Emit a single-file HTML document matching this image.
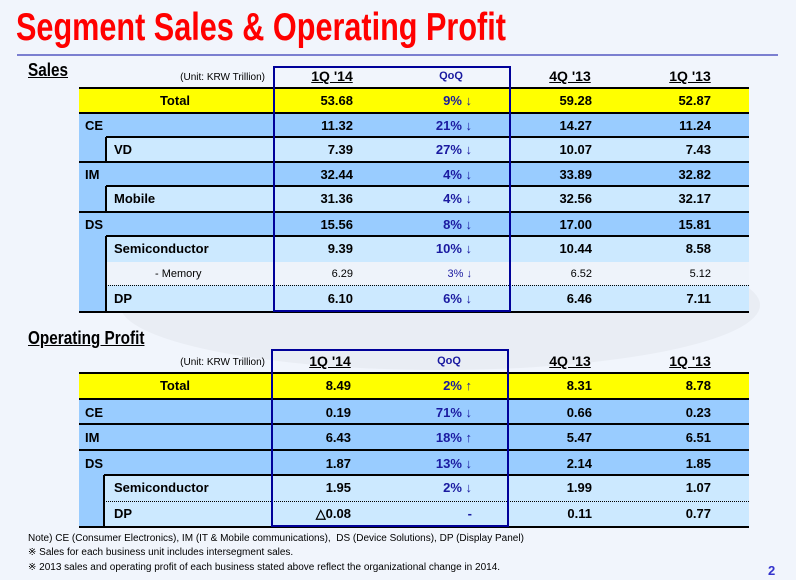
<!DOCTYPE html>
<html><head><meta charset="utf-8"><style>
body{margin:0;background:#fff;}
#slide{position:relative;width:796px;height:580px;overflow:hidden;background:#f1f5fc;font-family:"Liberation Sans",sans-serif;}
.a{position:absolute;}
.t{position:absolute;white-space:nowrap;font-weight:bold;font-size:13px;color:#000;line-height:16px;}
</style></head><body>
<div id="slide">
<div class="a" style="left:120px;top:240px;width:640px;height:130px;border-radius:50%;background:#e9edf4;"></div>
<div class="a" style="left:16px;top:6px;font-size:39px;font-weight:bold;color:#ff0000;white-space:nowrap;transform:scaleX(0.785);transform-origin:0 0;">Segment Sales &amp; Operating Profit</div>
<div class="a" style="left:17px;top:54px;width:761px;height:2px;background:#7b7fd0;"></div>
<div class="a" style="left:28px;top:60px;font-size:18px;font-weight:bold;text-decoration:underline;transform:scaleX(0.85);transform-origin:0 0;">Sales</div>
<div class="a" style="left:28px;top:328px;font-size:18px;font-weight:bold;text-decoration:underline;transform:scaleX(0.85);transform-origin:0 0;">Operating Profit</div>
<div id="tables"></div>
<div class="a" style="left:28px;top:533px;font-size:10px;white-space:nowrap;">Note) CE (Consumer Electronics), IM (IT &amp; Mobile communications),&nbsp; DS (Device Solutions), DP (Display Panel)</div>
<div class="a" style="left:28px;top:547px;font-size:10px;white-space:nowrap;">※ Sales for each business unit includes intersegment sales.</div>
<div class="a" style="left:28px;top:562px;font-size:10px;white-space:nowrap;">※ 2013 sales and operating profit of each business stated above reflect the organizational change in 2014.</div>
<div class="a" style="left:768px;top:563px;font-size:13px;font-weight:bold;color:#3333cc;">2</div>
</div>
<script>
const headers = ["1Q '14","QoQ","4Q '13","1Q '13"];
const salesLabels = ["Total","CE","VD","IM","Mobile","DS","Semiconductor","- Memory","DP"];
const salesQ1_14 = ["53.68","11.32","7.39","32.44","31.36","15.56","9.39","6.29","6.10"];
const salesQoQ = ["9% ↓","21% ↓","27% ↓","4% ↓","4% ↓","8% ↓","10% ↓","3% ↓","6% ↓"];
const salesQ4_13 = ["59.28","14.27","10.07","33.89","32.56","17.00","10.44","6.52","6.46"];
const salesQ1_13 = ["52.87","11.24","7.43","32.82","32.17","15.81","8.58","5.12","7.11"];
const opLabels = ["Total","CE","IM","DS","Semiconductor","DP"];
const opQ1_14 = ["8.49","0.19","6.43","1.87","1.95","△0.08"];
const opQoQ = ["2% ↑","71% ↓","18% ↑","13% ↓","2% ↓","-"];
const opQ4_13 = ["8.31","0.66","5.47","2.14","1.99","0.11"];
const opQ1_13 = ["8.78","0.23","6.51","1.85","1.07","0.77"];

const root=document.getElementById('tables');
function box(x,y,w,h,style){const d=document.createElement('div');d.className='a';d.style.cssText=`left:${x}px;top:${y}px;width:${w}px;height:${h}px;`+(style||'');root.appendChild(d);return d;}
function txt(s,x,y,align,style){const d=document.createElement('div');d.className='t';d.textContent=s;
 if(align==='r'){d.style.right=(796-x)+'px';}else if(align==='c'){d.style.left=(x-100)+'px';d.style.width='200px';d.style.textAlign='center';}else d.style.left=x+'px';
 d.style.top=y+'px';if(style)d.style.cssText+=style;root.appendChild(d);return d;}

// kinds: T total, P parent, C child (solid top), D child (dotted top), M memory
function drawTable(prefix,labels,cols,kinds,ys,top,boxL,boxR,indentX,hdrY){
 const L=79,R=749;
 for(let i=0;i<labels.length;i++){
  const y0=ys[i],y1=ys[i+1],k=kinds[i];
  let b;
  if(k==='T'){b=box(L,y0,R-L,y1-y0,'background:#ffff00;');}
  else if(k==='P'){b=box(L,y0,R-L,y1-y0,'background:#99ccff;');}
  else{box(L,y0,indentX-L,y1-y0,'background:#99ccff;');b=box(indentX,y0,R-indentX,y1-y0,k==='M'?'background:#eef3fa;':'background:#cce9ff;');}
  
  
  const lx=k==='T'?null:(k==='P'?85:(k==='M'?155:114));
  const ty=y0+(y1-y0)/2-8+(k==='P'?1:0);
  const small=k==='M'?'font-weight:normal;font-size:11px;':'';
  if(k==='T')txt(labels[i],175,ty,'c');else txt(labels[i],lx,ty,'l',small);
  const rx=[353,472,592,711];
  for(let c=0;c<4;c++){
   const st=small+(c===1?'color:#1a1aa0;':'');
   const e=txt(cols[c][i],rx[c]+(c===0?boxL-273:0),ty,'r',st);
   
   
  }
  if(k==='T'||k==='P')box(L,y0-1,R-L,2,'background:#000;');
  else if(k==='C')box(indentX,y0-1,R-indentX,2,'background:#000;');
  else if(k==='D')box(indentX,y0,R-indentX,0,'border-top:1px dotted #000;');
  if(k!=='T'&&k!=='P')box(indentX-1,y0,2,y1-y0,'background:#000;');
 }
 box(L,ys[ys.length-1]-1,R-L,2,'background:#000;');
 const bx=box(boxL,top,boxR-boxL,ys[ys.length-1]-top,'border:2px solid #000099;box-sizing:border-box;');
 
 
 const u=txt('(Unit: KRW Trillion)',265,hdrY+2,'r','font-weight:normal;font-size:10px;');
 
 
 const hx=[boxL+59,boxL+178,570,690];
 for(let c=0;c<4;c++){
  const h=txt(headers[c],hx[c],hdrY,'c',c===1?'color:#1a1aa0;font-size:11px;':'font-size:14px;');
  if(c!==1)h.innerHTML='<span style="text-decoration:underline">'+headers[c]+'</span>';
  
  
 }
}
drawTable('sales',salesLabels,[salesQ1_14,salesQoQ,salesQ4_13,salesQ1_13],
 ['T','P','C','P','C','P','C','M','D'],[88,113,137,162,186,212,236,262,285,312],66,273,511,106,68);
drawTable('op',opLabels,[opQ1_14,opQoQ,opQ4_13,opQ1_13],
 ['T','P','P','P','C','D'],[373,399,424,450,475,501,527],349,271,509,104,353);
</script>
</body></html>
